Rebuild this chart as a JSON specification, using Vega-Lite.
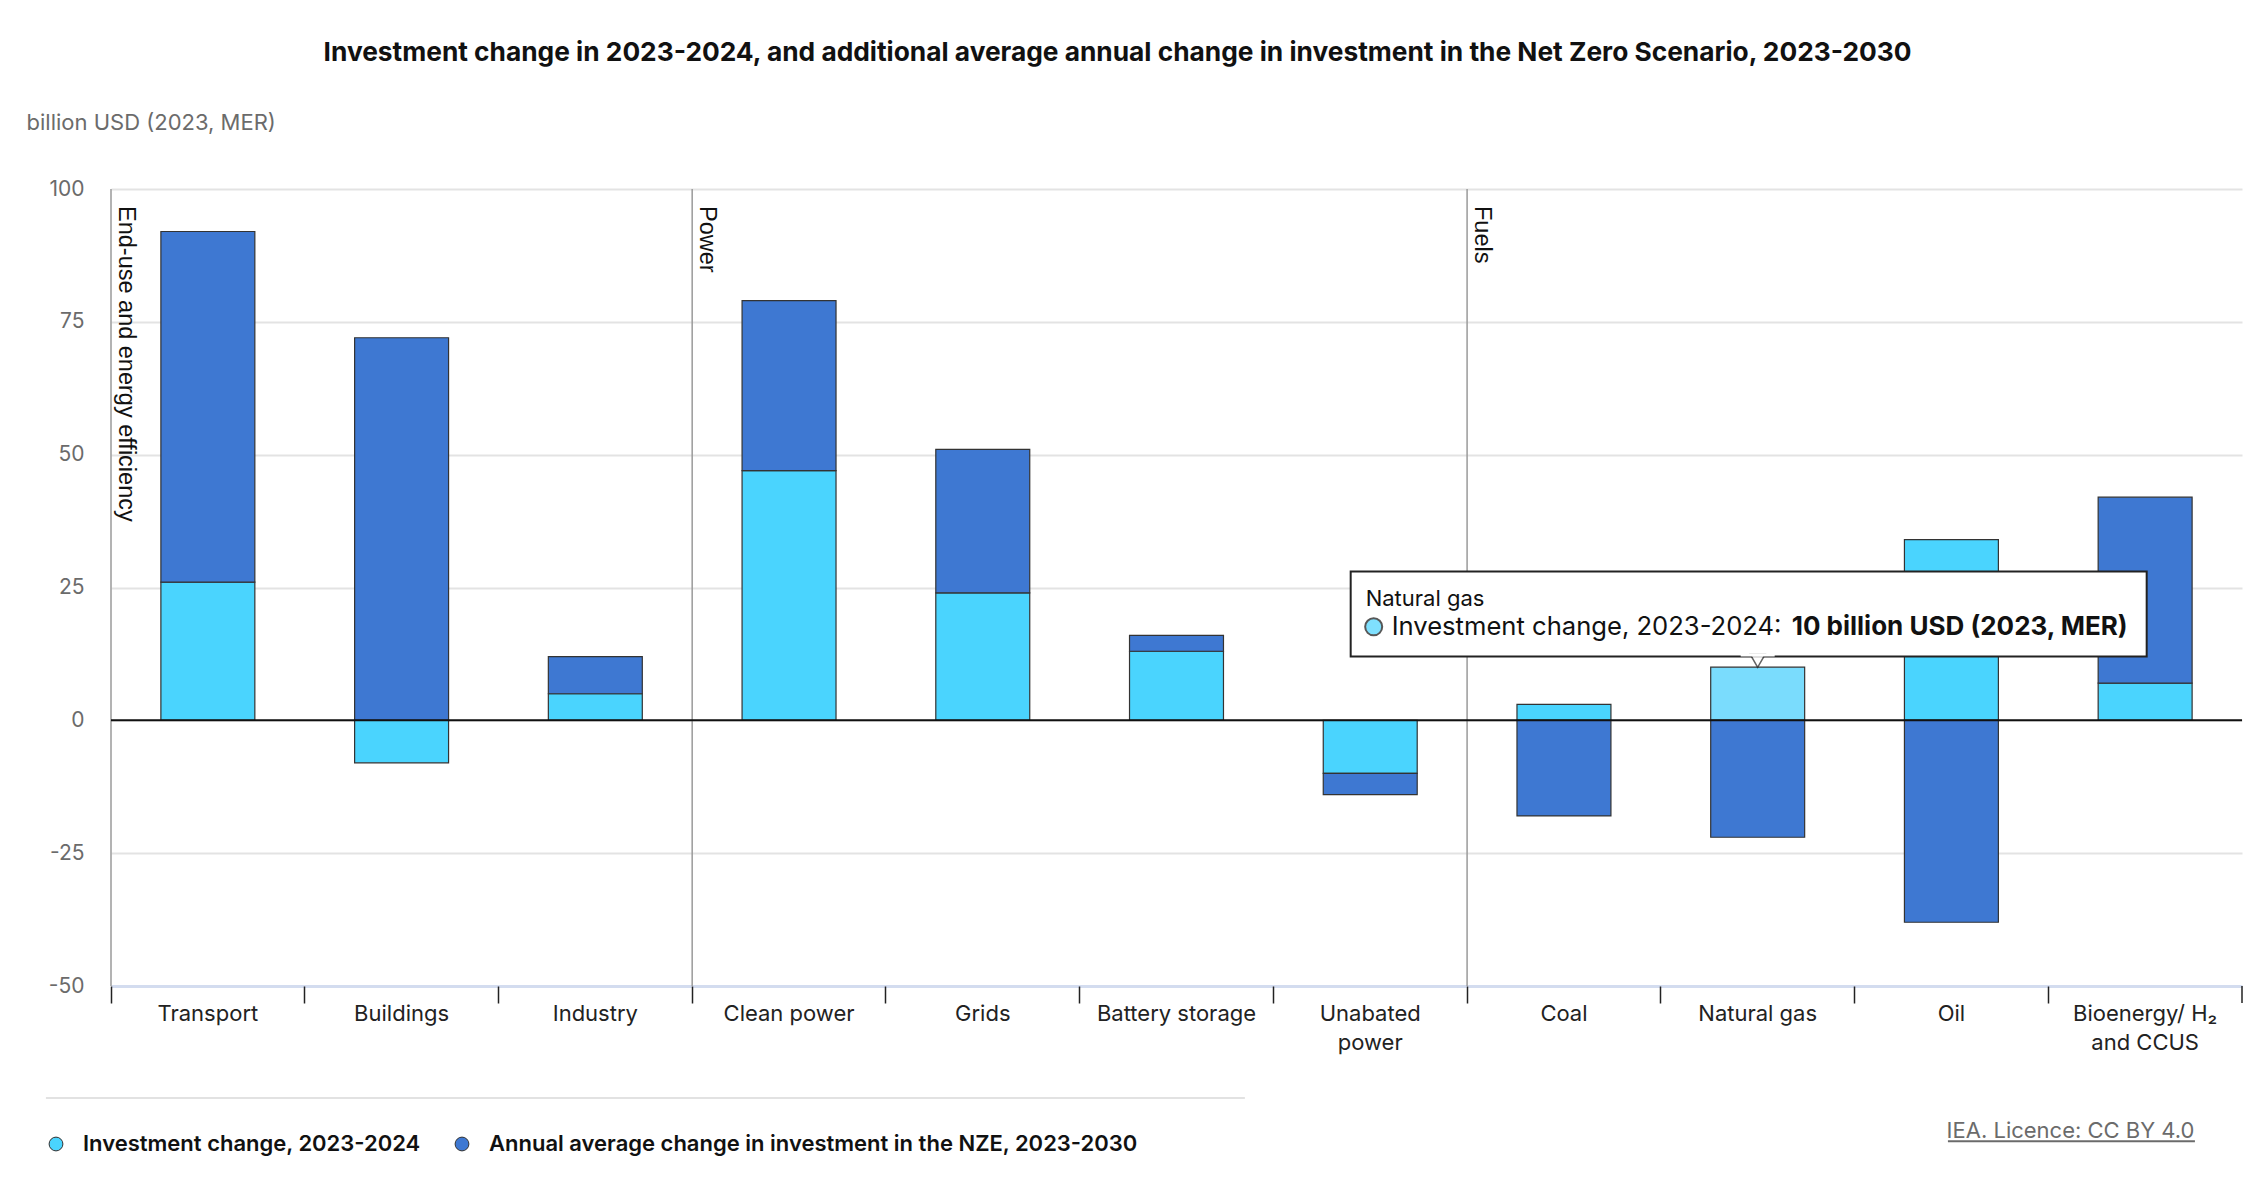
{
  "$schema": "https://vega.github.io/schema/vega-lite/v6.json",
  "autosize": {"type": "none"},
  "width": 2131,
  "height": 797,
  "padding": {"left": 111, "top": 189, "right": 19, "bottom": 195},
  "background": "white",
  "title": {
    "text": "Investment change in 2023-2024, and additional average annual change in investment in the Net Zero Scenario, 2023-2030",
    "anchor": "middle",
    "frame": "group",
    "dx": -59,
    "offset": 45,
    "font": "Inter",
    "fontSize": 26.3,
    "fontWeight": "bold",
    "color": "#111111"
  },
  "config": {
    "font": "Inter",
    "view": {"stroke": null},
    "axis": {"labelFont": "Inter", "titleFont": "Inter"},
    "legend": {"labelFont": "Inter"}
  },
  "layer": [
    {
      "data": {
        "values": [
          {"category": "Transport", "series": "Investment change, 2023-2024", "ord": 1, "value": 26},
          {"category": "Transport", "series": "Annual average change in investment in the NZE, 2023-2030", "ord": 2, "value": 66},
          {"category": "Buildings", "series": "Investment change, 2023-2024", "ord": 1, "value": -8},
          {"category": "Buildings", "series": "Annual average change in investment in the NZE, 2023-2030", "ord": 2, "value": 72},
          {"category": "Industry", "series": "Investment change, 2023-2024", "ord": 1, "value": 5},
          {"category": "Industry", "series": "Annual average change in investment in the NZE, 2023-2030", "ord": 2, "value": 7},
          {"category": "Clean power", "series": "Investment change, 2023-2024", "ord": 1, "value": 47},
          {"category": "Clean power", "series": "Annual average change in investment in the NZE, 2023-2030", "ord": 2, "value": 32},
          {"category": "Grids", "series": "Investment change, 2023-2024", "ord": 1, "value": 24},
          {"category": "Grids", "series": "Annual average change in investment in the NZE, 2023-2030", "ord": 2, "value": 27},
          {"category": "Battery storage", "series": "Investment change, 2023-2024", "ord": 1, "value": 13},
          {"category": "Battery storage", "series": "Annual average change in investment in the NZE, 2023-2030", "ord": 2, "value": 3},
          {"category": "Unabated power", "series": "Investment change, 2023-2024", "ord": 1, "value": -10},
          {"category": "Unabated power", "series": "Annual average change in investment in the NZE, 2023-2030", "ord": 2, "value": -4},
          {"category": "Coal", "series": "Investment change, 2023-2024", "ord": 1, "value": 3},
          {"category": "Coal", "series": "Annual average change in investment in the NZE, 2023-2030", "ord": 2, "value": -18},
          {"category": "Natural gas", "series": "Investment change, 2023-2024", "ord": 1, "value": 10},
          {"category": "Natural gas", "series": "Annual average change in investment in the NZE, 2023-2030", "ord": 2, "value": -22},
          {"category": "Oil", "series": "Investment change, 2023-2024", "ord": 1, "value": 34},
          {"category": "Oil", "series": "Annual average change in investment in the NZE, 2023-2030", "ord": 2, "value": -38},
          {"category": "Bioenergy/ H₂ and CCUS", "series": "Investment change, 2023-2024", "ord": 1, "value": 7},
          {"category": "Bioenergy/ H₂ and CCUS", "series": "Annual average change in investment in the NZE, 2023-2030", "ord": 2, "value": 35}
        ]
      },
      "mark": {"type": "bar", "width": {"band": 0.485}, "stroke": "#333333", "strokeWidth": 1.2},
      "encoding": {
        "x": {
          "field": "category",
          "type": "nominal",
          "sort": null,
          "scale": {
            "domain": ["Transport", "Buildings", "Industry", "Clean power", "Grids", "Battery storage", "Unabated power", "Coal", "Natural gas", "Oil", "Bioenergy/ H₂ and CCUS"],
            "paddingInner": 0,
            "paddingOuter": 0
          },
          "axis": {
            "title": "IEA. Licence: CC BY 4.0",
            "titleX": 2083,
            "titleY": 144,
            "titleAlign": "right",
            "titleBaseline": "middle",
            "titleFontSize": 22,
            "titleFontWeight": "normal",
            "titleColor": "#6b6b6b",
            "domain": false,
            "ticks": true,
            "bandPosition": 0,
            "tickSize": 17,
            "tickColor": "#222222",
            "tickWidth": 1.5,
            "labelAngle": 0,
            "labelPadding": 0,
            "labelBaseline": "top",
            "labelFontSize": 22,
            "labelColor": "#222222",
            "labelLineHeight": 29,
            "labelExpr": "datum.label == 'Unabated power' ? ['Unabated', 'power'] : datum.label == 'Bioenergy/ H₂ and CCUS' ? ['Bioenergy/ H₂', 'and CCUS'] : datum.label"
          }
        },
        "y": {
          "field": "value",
          "type": "quantitative",
          "stack": "zero",
          "scale": {"domain": [-50, 100], "nice": false},
          "axis": {
            "title": "billion USD (2023, MER)",
            "titleAngle": 0,
            "titleX": -85,
            "titleY": -67,
            "titleAlign": "left",
            "titleBaseline": "middle",
            "titleFontSize": 22,
            "titleFontWeight": "normal",
            "titleColor": "#6b6b6b",
            "values": [-50, -25, 0, 25, 50, 75, 100],
            "labelExpr": "replace(datum.label, '−', '-')",
            "domain": false,
            "ticks": false,
            "labelPadding": 27,
            "labelFontSize": 21,
            "labelColor": "#6b6b6b",
            "gridColor": {"condition": {"test": "datum.value === -50", "value": "#d3dcef"}, "value": "#e3e3e3"},
            "gridWidth": {"condition": {"test": "datum.value === -50", "value": 3}, "value": 2}
          }
        },
        "order": {"field": "ord", "type": "quantitative"},
        "color": {
          "condition": {
            "test": "datum.category === 'Natural gas' && datum.ord === 1",
            "value": "#7adcfd"
          },
          "field": "series",
          "type": "nominal",
          "scale": {
            "domain": ["Investment change, 2023-2024", "Annual average change in investment in the NZE, 2023-2030"],
            "range": ["#4ad4fe", "#3e78d2"]
          },
          "legend": {
            "title": null,
            "orient": "none",
            "direction": "horizontal",
            "legendX": -66,
            "legendY": 944,
            "padding": 0,
            "symbolType": "circle",
            "symbolSize": 190,
            "symbolStrokeColor": "#333333",
            "symbolStrokeWidth": 1,
            "labelFontSize": 22,
            "labelFontWeight": 600,
            "labelColor": "#111111",
            "labelOffset": 16,
            "columnPadding": 30,
            "labelLimit": 900
          }
        }
      }
    },
    {
      "data": {
        "values": [
          {"category": "Transport", "group": "End-use and energy efficiency"},
          {"category": "Clean power", "group": "Power"},
          {"category": "Coal", "group": "Fuels"}
        ]
      },
      "layer": [
        {
          "mark": {"type": "rule", "color": "#9a9a9a", "strokeWidth": 1.5},
          "encoding": {
            "x": {"field": "category", "type": "nominal", "bandPosition": 0}
          }
        },
        {
          "mark": {
            "type": "text",
            "angle": 90,
            "align": "left",
            "baseline": "middle",
            "xOffset": 15,
            "yOffset": 17,
            "font": "Liberation Sans",
            "fontSize": 23.5,
            "color": "#111111"
          },
          "encoding": {
            "x": {"field": "category", "type": "nominal", "bandPosition": 0},
            "y": {"datum": 100},
            "text": {"field": "group"}
          }
        }
      ]
    },
    {
      "data": {"values": [{"label": "Natural gas"}]},
      "layer": [
        {
          "mark": {"type": "rule", "color": "#111111", "strokeWidth": 2},
          "encoding": {"y": {"datum": 0}}
        },
        {
          "mark": {"type": "rule", "color": "#222222", "strokeWidth": 1.5},
          "encoding": {
            "x": {"datum": "Bioenergy/ H₂ and CCUS", "bandPosition": 1},
            "y": {"datum": -50},
            "y2": {"datum": -53.2}
          }
        },
        {
          "mark": {"type": "rule", "color": "#6b6b6b", "strokeWidth": 2},
          "encoding": {
            "x": {"datum": "Oil", "bandPosition": 0.482},
            "x2": {"datum": "Bioenergy/ H₂ and CCUS", "bandPosition": 0.757},
            "y": {"datum": -79.2}
          }
        },
        {
          "mark": {"type": "rule", "color": "#e2e2e2", "strokeWidth": 2},
          "encoding": {
            "x": {"datum": "Transport", "bandPosition": -0.336},
            "x2": {"datum": "Battery storage", "bandPosition": 0.853},
            "y": {"datum": -71.1}
          }
        },
        {
          "mark": {"type": "bar", "width": 796, "xOffset": -9, "fill": "white", "stroke": "#222222", "strokeWidth": 2},
          "encoding": {
            "x": {"datum": "Natural gas"},
            "y": {"datum": 28.0},
            "y2": {"datum": 12.0}
          }
        },
        {
          "mark": {"type": "point", "shape": "triangle-down", "size": 220, "filled": true, "fill": "white", "stroke": "#222222", "strokeWidth": 1.5, "yOffset": -1},
          "encoding": {
            "x": {"datum": "Natural gas"},
            "y": {"datum": 11.0}
          }
        },
        {
          "mark": {"type": "bar", "width": 34, "height": 6, "fill": "white", "yOffset": -3},
          "encoding": {
            "x": {"datum": "Natural gas"},
            "y": {"datum": 12.0},
            "y2": {"datum": 12.0}
          }
        },
        {
          "mark": {"type": "text", "align": "left", "baseline": "middle", "dx": -392, "fontSize": 22, "color": "#111111"},
          "encoding": {
            "x": {"datum": "Natural gas"},
            "y": {"datum": 22.8},
            "text": {"field": "label"}
          }
        },
        {
          "mark": {"type": "point", "shape": "circle", "size": 290, "filled": true, "fill": "#4ad4fe", "stroke": "#111111", "strokeWidth": 2, "xOffset": -384},
          "encoding": {
            "x": {"datum": "Natural gas"},
            "y": {"datum": 17.6}
          }
        },
        {
          "mark": {"type": "text", "align": "left", "baseline": "middle", "dx": -366, "fontSize": 25.6, "color": "#111111"},
          "encoding": {
            "x": {"datum": "Natural gas"},
            "y": {"datum": 17.6},
            "text": {"value": "Investment change, 2023-2024:"}
          }
        },
        {
          "mark": {"type": "text", "align": "right", "baseline": "middle", "dx": 370, "fontSize": 26, "fontWeight": "bold", "color": "#111111"},
          "encoding": {
            "x": {"datum": "Natural gas"},
            "y": {"datum": 17.6},
            "text": {"value": "10 billion USD (2023, MER)"}
          }
        }
      ]
    }
  ]
}
